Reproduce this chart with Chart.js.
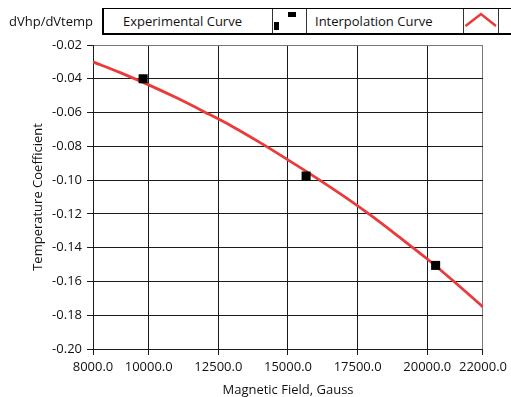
<!DOCTYPE html>
<html>
<head>
<meta charset="utf-8">
<script src="https://cdn.jsdelivr.net/npm/chart.js@4"></script>
<style>
  html,body{margin:0;padding:0;background:#fff;overflow:hidden;}
  #wrap{position:relative;width:511px;height:397px;font-family:"Open Sans",sans-serif;color:#1a1a1a;}
  #c{position:absolute;left:0;top:0;}
  .t{position:absolute;font-size:13px;line-height:16px;white-space:nowrap;color:#111;}
  .box{position:absolute;box-sizing:border-box;border-top:1px solid #000;border-left:2px solid #000;border-bottom:2px solid #000;background:#fff;}
  .vl{position:absolute;width:1px;background:#333;}
  .sq{position:absolute;background:#000;}
</style>
</head>
<body>
<div id="wrap">
  <canvas id="c" width="511" height="397"></canvas>
  <span class="t" style="left:9px;top:13px;">dVhp/dVtemp</span>
  <div class="box" style="left:102px;top:8px;width:430px;height:27px;"></div>
  <div class="vl" style="left:272px;top:9px;height:24px;"></div>
  <div class="vl" style="left:306px;top:9px;height:24px;"></div>
  <div class="vl" style="left:463px;top:9px;height:24px;"></div>
  <div class="vl" style="left:498px;top:9px;height:24px;"></div>
  <span class="t" style="left:123px;top:13px;">Experimental Curve</span>
  <span class="t" style="left:315px;top:13px;">Interpolation Curve</span>
  <div class="sq" style="left:288px;top:12px;width:8px;height:5px;"></div>
  <div class="sq" style="left:274px;top:22px;width:5px;height:8px;"></div>
  <svg style="position:absolute;left:463px;top:9px;" width="35" height="24">
    <polyline points="2.5,17 18,5 33,17" fill="none" stroke="#ea3a3a" stroke-width="2.5"/>
  </svg>
</div>
<script>
// Experimental points
const expField = [9800, 15650, 20300];
const expCoef  = [-0.0400, -0.0976, -0.1505];

// Interpolation curve samples
const curveField = [8000, 9000, 10000, 11000, 12000, 13000, 14000, 15000, 16000, 17000, 18000, 19000, 20000, 21000, 22000];
const curveCoef  = [-0.0300, -0.0365, -0.0436, -0.0513, -0.0596, -0.0682, -0.0778, -0.0880, -0.0985, -0.1095, -0.1212, -0.1338, -0.1467, -0.1606, -0.1751];

// Tick labels
const xTicks = [8000, 10000, 12500, 15000, 17500, 20000, 22000];
const yTicks = [-0.20, -0.18, -0.16, -0.14, -0.12, -0.10, -0.08, -0.06, -0.04, -0.02];

const expData = expField.map((x, i) => ({x: x, y: expCoef[i]}));
const curveData = curveField.map((x, i) => ({x: x, y: curveCoef[i]}));

const font = {family: "Open Sans", size: 13};
const textColor = '#111';

new Chart(document.getElementById('c'), {
  type: 'scatter',
  data: {
    datasets: [
      {
        label: 'Experimental Curve',
        data: expData,
        pointStyle: 'rect',
        pointRadius: 6.4,
        pointHoverRadius: 6.4,
        backgroundColor: '#000',
        borderColor: '#000',
        borderWidth: 0,
        showLine: false,
        order: 0
      },
      {
        label: 'Interpolation Curve',
        type: 'line',
        data: curveData,
        borderColor: '#ea3a3a',
        borderWidth: 2.8,
        pointRadius: 0,
        fill: false,
        cubicInterpolationMode: 'monotone',
        order: 1
      }
    ]
  },
  options: {
    responsive: false,
    animation: false,
    events: [],
    layout: {padding: {left: 30, top: 45, right: 24, bottom: 0}},
    plugins: {legend: {display: false}, tooltip: {enabled: false}},
    scales: {
      x: {
        type: 'linear',
        min: 8000, max: 22000,
        afterBuildTicks: s => { s.ticks = xTicks.map(v => ({value: v})); },
        afterFit: s => { s.height = 48; },
        ticks: {
          font: font, color: textColor, padding: 4, maxRotation: 0, autoSkip: false,
          callback: v => Number(v).toFixed(1)
        },
        grid: {
          color: c => (c.tick && c.tick.value === 22000) ? '#777' : '#1a1a1a',
          lineWidth: 1, tickLength: 6, tickColor: '#1a1a1a', drawTicks: true
        },
        border: {display: true, color: '#1a1a1a', width: 1},
        title: {display: true, text: 'Magnetic Field, Gauss', font: font, color: textColor, padding: {top: 0, bottom: -1}}
      },
      y: {
        type: 'linear',
        min: -0.20, max: -0.02,
        afterBuildTicks: s => { s.ticks = yTicks.map(v => ({value: v})); },
        afterFit: s => { s.width = 63; },
        ticks: {
          font: font, color: textColor, padding: 5, autoSkip: false,
          callback: v => Number(v).toFixed(2)
        },
        grid: {
          color: c => (c.tick && Math.abs(c.tick.value - (-0.02)) < 1e-9) ? '#777' : '#1a1a1a',
          lineWidth: 1, tickLength: 6, tickColor: '#1a1a1a', drawTicks: true
        },
        border: {display: true, color: '#1a1a1a', width: 1},
        title: {display: true, text: 'Temperature Coefficient', font: font, color: textColor, padding: 0}
      }
    }
  }
});
</script>
</body>
</html>
